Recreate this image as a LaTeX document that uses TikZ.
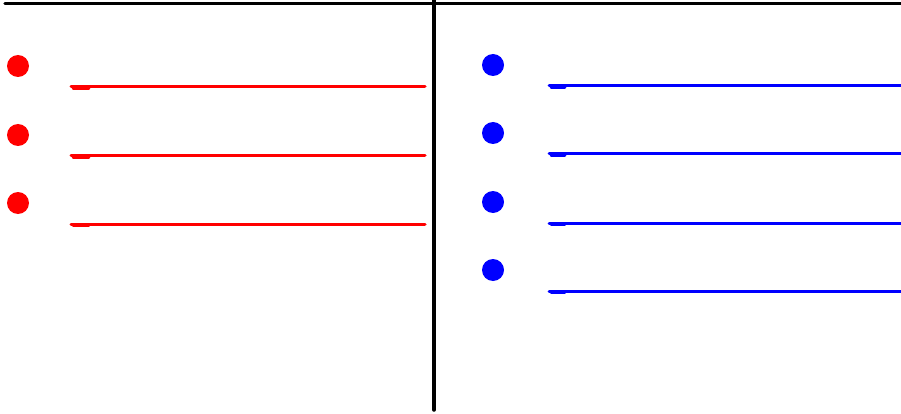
\documentclass[tikz,border=0pt]{standalone}
\usepackage{tikz}
\usepackage{xcolor}
\usetikzlibrary{positioning,calc}
\definecolor{ink}{HTML}{000000}
\definecolor{leftred}{HTML}{FF0000}
\definecolor{rightblue}{HTML}{0000FF}

\tikzset{
  rule/.style={draw=ink,line width=3.5pt,line cap=round},
  bulletdot/.style={circle,inner sep=0pt,minimum size=22pt},
  writeline/.style={line width=3pt,line cap=round},
  penstart/.style={line width=2.5pt,line cap=round}
}

\begin{document}
\begin{tikzpicture}[x=1pt,y=-1pt]
  \useasboundingbox (0,0) rectangle (901,414);
  % T-chart frame
  \coordinate (topleft) at (5,3.5);
  \coordinate (topright) at (903,3.5);
  \coordinate (midtop) at (434,0);
  \coordinate (midbottom) at (434,410);
  \draw[rule] (topleft) -- (topright);
  \draw[rule] (midtop) -- (midbottom);
  % left column
  \foreach \i/\y in {1/66,2/135,3/203}{
    \node[bulletdot,fill=leftred] (ldot\i) at (18,\y) {};
    \draw[writeline,draw=leftred] (71,\y+21) -- (425,\y+21);
    \draw[penstart,draw=leftred] (73,\y+22.5) -- (89,\y+22.5);
  }
  % right column
  \foreach \i/\y in {1/65,2/133,3/202,4/270}{
    \node[bulletdot,fill=rightblue] (rdot\i) at (493,\y) {};
    \draw[writeline,draw=rightblue] (549,\y+21) -- (903,\y+21);
    \draw[penstart,draw=rightblue] (551,\y+22.5) -- (565,\y+22.5);
  }
\end{tikzpicture}
\end{document}
